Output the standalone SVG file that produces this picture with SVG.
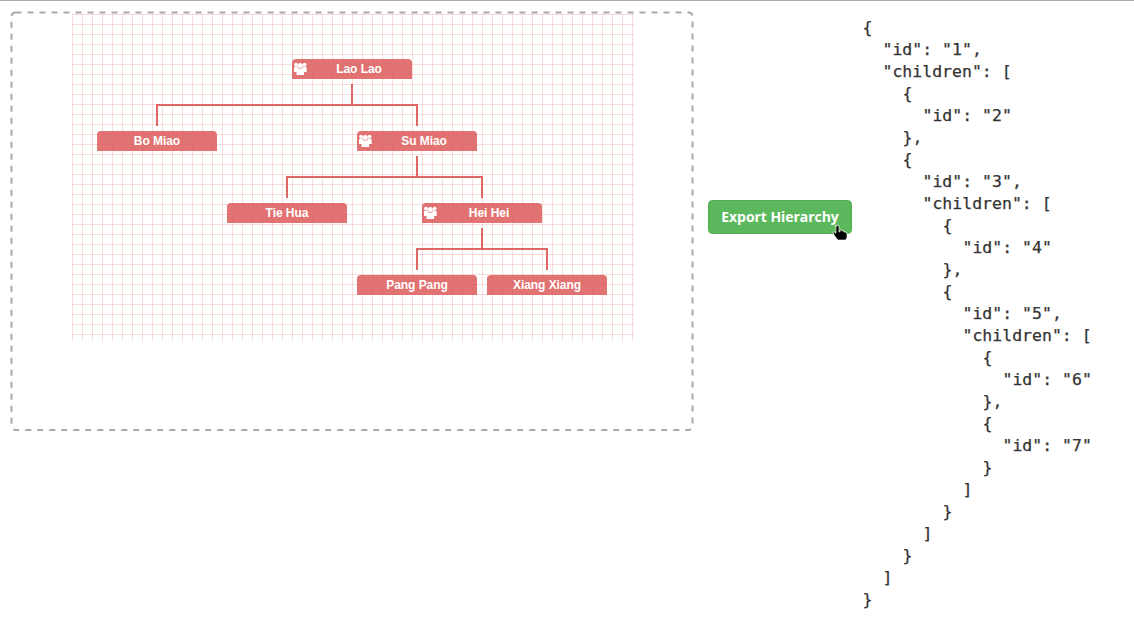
<svg xmlns="http://www.w3.org/2000/svg" width="1134" height="619" viewBox="0 0 1134 619">
<style>
.g{stroke:#e06666;stroke-width:1;stroke-opacity:.22}
.n{fill:#dd6060;fill-opacity:.88}
.t{font:bold 12px "Liberation Sans",Arial,sans-serif;fill:#fff;text-anchor:middle;letter-spacing:-.05px}
.c{fill:none;stroke:#e06666;stroke-width:2}
.j{font:16.5px "DejaVu Sans Mono",monospace;fill:#333;stroke:#333;stroke-width:.25}
.i{fill:#fff}
</style>
<defs>
<pattern id="gv" x="72" y="14" width="10" height="327" patternUnits="userSpaceOnUse"><path d="M.5 0V327" class="g"/></pattern>
<pattern id="gh" x="72" y="14" width="562" height="10" patternUnits="userSpaceOnUse"><path d="M0 .5H562" class="g"/></pattern>
<path id="nb" class="n" d="M0 20V4a4 4 0 0 1 4-4H116a4 4 0 0 1 4 4V20Z"/>
<g id="ic" class="i"><circle cx="8.300" cy="3.600" r="2.500"/><circle cx="4" cy="2.600" r="1.900"/><circle cx="12.600" cy="2.600" r="1.900"/><path d="M4.500 13V8.500a2 2 0 0 1 2-2h3.600a2 2 0 0 1 2 2V13Z"/><path d="M2 10V6a1.500 1.500 0 0 1 1.500-1.500H6V10ZM14.700 10V6a1.500 1.500 0 0 0-1.500-1.500H10.500V10Z"/></g>
</defs>
<rect width="1134" height="1" fill="#aaa"/>
<rect x="11.500" y="12.500" width="681" height="417.500" rx="4" fill="#fff" stroke="#aaa" stroke-width="2" stroke-dasharray="6 6"/>
<rect x="72" y="14" width="562" height="327" fill="url(#gv)"/>
<rect x="72" y="14" width="562" height="327" fill="url(#gh)"/>
<g id="connectors">
<path class="c" d="M352 84V105M157 126V105H417V126M417 156V177M287 198V177H482V198M482 228V249M417 270V249H547V270"/>
</g>
<g id="node-1"><use href="#nb" x="292" y="59"/><use href="#ic" x="292" y="62"/><text class="t" x="359" y="73">Lao Lao</text></g>
<g id="node-2"><use href="#nb" x="97" y="131"/><text class="t" x="157" y="145">Bo Miao</text></g>
<g id="node-3"><use href="#nb" x="357" y="131"/><use href="#ic" x="357" y="134"/><text class="t" x="424" y="145">Su Miao</text></g>
<g id="node-4"><use href="#nb" x="227" y="203"/><text class="t" x="287" y="217">Tie Hua</text></g>
<g id="node-5"><use href="#nb" x="422" y="203"/><use href="#ic" x="422" y="206"/><text class="t" x="489" y="217">Hei Hei</text></g>
<g id="node-6"><use href="#nb" x="357" y="275"/><text class="t" x="417" y="289">Pang Pang</text></g>
<g id="node-7"><use href="#nb" x="487" y="275"/><text class="t" x="547" y="289">Xiang Xiang</text></g>
<g id="export-button">
<rect x="708.500" y="200.500" width="143" height="33" rx="4" fill="#5cb85c" stroke="#4cae4c"/>
<text x="780" y="222" text-anchor="middle" style="font:bold 14px 'Open Sans',sans-serif;fill:#fff;letter-spacing:-.05px">Export Hierarchy</text>
<path d="M835 226h2v-1h1v1h1v6h1v-2h2v1h2v1h2v1h1v5l-1 1v1h-8l-1-1-3-4v-1l-1-1v-1h2v1h1v-7z" fill="#000" stroke="#fff" stroke-width=".6"/>
</g>
<g id="json" class="j">
<text x="862.500" y="33">{</text>
<text x="882.500" y="55">"id": "1",</text>
<text x="882.500" y="77">"children": [</text>
<text x="902.500" y="99">{</text>
<text x="922.500" y="121">"id": "2"</text>
<text x="902.500" y="143">},</text>
<text x="902.500" y="165">{</text>
<text x="922.500" y="187">"id": "3",</text>
<text x="922.500" y="209">"children": [</text>
<text x="942.500" y="231">{</text>
<text x="962.500" y="253">"id": "4"</text>
<text x="942.500" y="275">},</text>
<text x="942.500" y="297">{</text>
<text x="962.500" y="319">"id": "5",</text>
<text x="962.500" y="341">"children": [</text>
<text x="982.500" y="363">{</text>
<text x="1002.500" y="385">"id": "6"</text>
<text x="982.500" y="407">},</text>
<text x="982.500" y="429">{</text>
<text x="1002.500" y="451">"id": "7"</text>
<text x="982.500" y="473">}</text>
<text x="962.500" y="495">]</text>
<text x="942.500" y="517">}</text>
<text x="922.500" y="539">]</text>
<text x="902.500" y="561">}</text>
<text x="882.500" y="583">]</text>
<text x="862.500" y="605">}</text>
</g>
</svg>
